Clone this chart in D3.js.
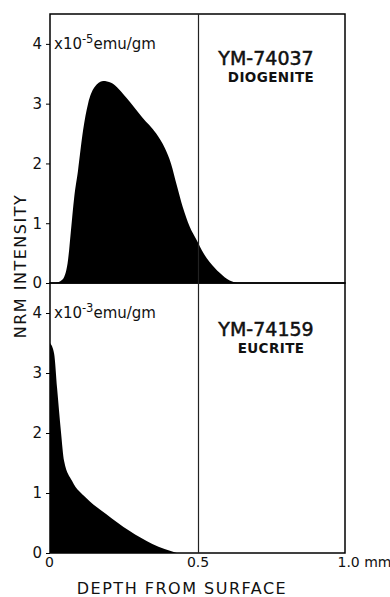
<!DOCTYPE html>
<html>
<head>
<meta charset="utf-8">
<script src="https://cdn.jsdelivr.net/npm/d3@7"></script>
<style>
  body { margin: 0; background: #fff; }
  text { font-family: "DejaVu Sans", sans-serif; fill: #111; }
</style>
</head>
<body>
<svg id="chart" width="390" height="597"></svg>
<script>
// diogenite YM-74037, NRM intensity in 1e-5 emu/gm
var depthTop = [0, 0.014, 0.035, 0.048, 0.061, 0.071, 0.082, 0.095, 0.112, 0.129, 0.15, 0.18, 0.207, 0.259, 0.313, 0.36, 0.39, 0.41, 0.43, 0.45, 0.473, 0.497, 0.52, 0.541, 0.575, 0.609, 0.635];
var nrmTop = [0, 0, 0.03, 0.1, 0.38, 0.88, 1.43, 1.88, 2.55, 3.0, 3.27, 3.38, 3.35, 3.1, 2.77, 2.5, 2.25, 2.0, 1.63, 1.27, 0.95, 0.72, 0.5, 0.35, 0.17, 0.04, 0];

// eucrite YM-74159, NRM intensity in 1e-3 emu/gm
var depthBot = [0, 0.014, 0.024, 0.037, 0.048, 0.075, 0.122, 0.19, 0.269, 0.347, 0.43];
var nrmBot = [3.5, 3.32, 2.75, 2.03, 1.53, 1.2, 0.92, 0.65, 0.37, 0.15, 0];

var yTicks = [0, 1, 2, 3, 4];
var xTicks = [0, 0.5, 1.0];

var svg = d3.select("#chart");

// plot box (window.top is reserved, so other names here)
var xLeft = 50, xRight = 345, yTop = 14, yMid = 283, yBottom = 553;

var x = d3.scaleLinear().domain([0, 1]).range([xLeft, xRight]);

var panels = [
  { depth: depthTop, nrm: nrmTop, y: d3.scaleLinear().domain([0, 4.5]).range([yMid, yTop]),
    exp: "-5", name: "YM-74037", kind: "DIOGENITE", nameDy: 21, kindDy: 38 },
  { depth: depthBot, nrm: nrmBot, y: d3.scaleLinear().domain([0, 4.5]).range([yBottom, yMid]),
    exp: "-3", name: "YM-74159", kind: "EUCRITE", nameDy: 23, kindDy: 40 }
];

panels.forEach(function (p) {
  var y = p.y;
  var pts = p.depth.map(function (d, i) { return [d, p.nrm[i]]; });

  var area = d3.area()
    .x(function (d) { return x(d[0]); })
    .y0(y(0))
    .y1(function (d) { return y(d[1]); })
    .curve(d3.curveMonotoneX);

  svg.append("path")
    .attr("d", area(pts))
    .attr("fill", "#000");

  // panel frame
  svg.append("rect")
    .attr("x", xLeft).attr("y", y.range()[1])
    .attr("width", xRight - xLeft).attr("height", y.range()[0] - y.range()[1])
    .attr("fill", "none").attr("stroke", "#000").attr("stroke-width", 1.5);

  var ax = svg.append("g")
    .attr("transform", "translate(" + xLeft + ",0)")
    .call(d3.axisLeft(y).tickValues(yTicks).tickSize(4).tickPadding(4).tickFormat(d3.format("d")));
  ax.select(".domain").remove();
  ax.selectAll("text").style("font-size", "15px").style("font-family", "DejaVu Sans");

  // unit label
  var unit = svg.append("text")
    .attr("x", xLeft + 4).attr("y", y(4) + 5)
    .style("font-size", "15px");
  unit.append("tspan").text("x10");
  unit.append("tspan").attr("dy", -6).style("font-size", "11.5px").text(p.exp);
  unit.append("tspan").attr("dy", 6).text("emu/gm");

  svg.append("text")
    .attr("x", 266).attr("y", y(4) + p.nameDy)
    .attr("text-anchor", "middle")
    .style("font-size", "19px")
    .style("stroke", "#111").style("stroke-width", 0.5)
    .text(p.name);
  svg.append("text")
    .attr("x", 271).attr("y", y(4) + p.kindDy)
    .attr("text-anchor", "middle")
    .style("font-size", "13.5px").style("font-weight", "bold").style("letter-spacing", "0.4px")
    .text(p.kind);
});

// line at 0.5 mm through both panels
svg.append("line")
  .attr("x1", x(0.5) + 1).attr("x2", x(0.5) + 1)
  .attr("y1", yTop).attr("y2", yBottom)
  .attr("stroke", "#222").attr("stroke-width", 1.2);

// x axis labels
var xa = svg.append("g")
  .attr("transform", "translate(0," + yBottom + ")")
  .call(d3.axisBottom(x).tickValues(xTicks).tickSize(0).tickPadding(4)
    .tickFormat(function (d) { return d === 0 ? "0" : d === 1 ? "1.0 mm" : "0.5"; }));
xa.select(".domain").remove();
xa.selectAll("text").style("font-size", "14px").style("font-family", "DejaVu Sans");
xa.selectAll("text").filter(function (d) { return d === 1; })
  .attr("text-anchor", "start").attr("dx", -8);
xa.selectAll("text").filter(function (d) { return d === 0; }).attr("dx", -1);

svg.append("text")
  .attr("x", 182).attr("y", 594)
  .attr("text-anchor", "middle")
  .style("font-size", "16px").style("letter-spacing", "1.5px")
  .text("DEPTH FROM SURFACE");

svg.append("text")
  .attr("transform", "translate(26,266) rotate(-90)")
  .attr("text-anchor", "middle")
  .style("font-size", "16px").style("letter-spacing", "1.5px")
  .text("NRM INTENSITY");
</script>
</body>
</html>
